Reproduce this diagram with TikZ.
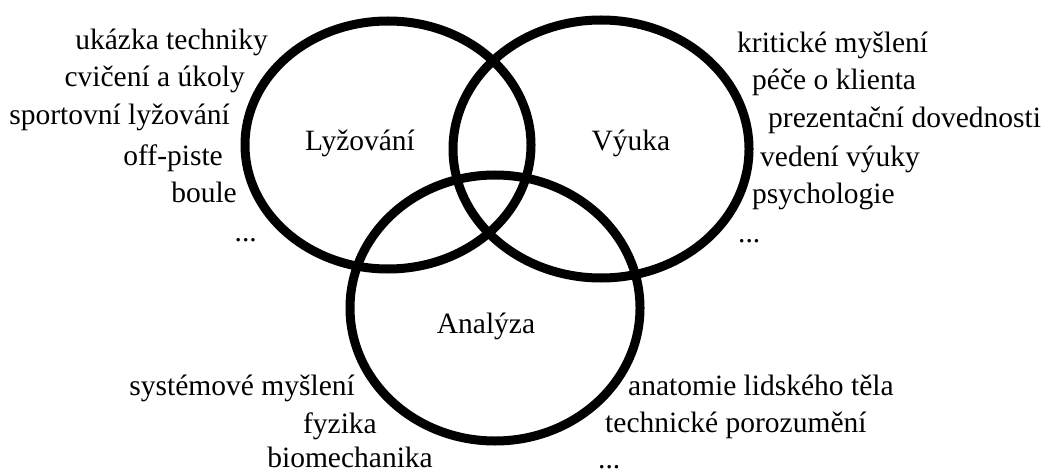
\documentclass[tikz,border=0pt]{standalone}
\usepackage{fontspec}
\setmainfont{Liberation Serif}
\usetikzlibrary{shapes.geometric}
\begin{document}
\begin{tikzpicture}[x=1pt,y=-1pt,
  ring/.style={draw=black, line width=9pt, ellipse, inner sep=0pt, outer sep=0pt},
  lbl/.style={font=\fontsize{29.5}{32}\selectfont, inner sep=0pt, text=black}]
\useasboundingbox (0,0) rectangle (1048,473);
\fill[white] (0,0) rectangle (1048,473);

% the three overlapping sets
\node[ring, minimum width=286pt, minimum height=248pt] (ski)  at (388,145) {};
\node[ring, minimum width=296pt, minimum height=258pt] (teach) at (601,149) {};
\node[ring, minimum width=290pt, minimum height=266pt] (anal) at (495,308) {};

% set names
\node[lbl, anchor=base] (tski)   at (360,151) {Lyžování};
\node[lbl, anchor=base] (tteach) at (631,151) {Výuka};
\node[lbl, anchor=base] (tanal)  at (486,333) {Analýza};

% skiing topics
\node[lbl, anchor=base east] (s1) at (268,50)  {ukázka techniky};
\node[lbl, anchor=base east] (s2) at (245,87)  {cvičení a úkoly};
\node[lbl, anchor=base east] (s3) at (230,125) {sportovní lyžování};
\node[lbl, anchor=base east] (s4) at (223,165) {off-piste};
\node[lbl, anchor=base east] (s5) at (237,202) {boule};
\node[lbl, anchor=base east] (s6) at (257,241) {...};

% teaching topics
\node[lbl, anchor=base west] (t1) at (737,53)  {kritické myšlení};
\node[lbl, anchor=base west] (t2) at (752,90)  {péče o klienta};
\node[lbl, anchor=base west] (t3) at (768,128) {prezentační dovednosti};
\node[lbl, anchor=base west] (t4) at (760,167) {vedení výuky};
\node[lbl, anchor=base west] (t5) at (752,203) {psychologie};
\node[lbl, anchor=base west] (t6) at (738,242) {...};

% analysis topics
\node[lbl, anchor=base east] (a1) at (355,395) {systémové myšlení};
\node[lbl, anchor=base east] (a2) at (377,433) {fyzika};
\node[lbl, anchor=base east] (a3) at (433,467) {biomechanika};
\node[lbl, anchor=base west] (a4) at (628,395) {anatomie lidského těla};
\node[lbl, anchor=base west] (a5) at (605,432) {technické porozumění};
\node[lbl, anchor=base west] (a6) at (598,468) {...};
\end{tikzpicture}
\end{document}
